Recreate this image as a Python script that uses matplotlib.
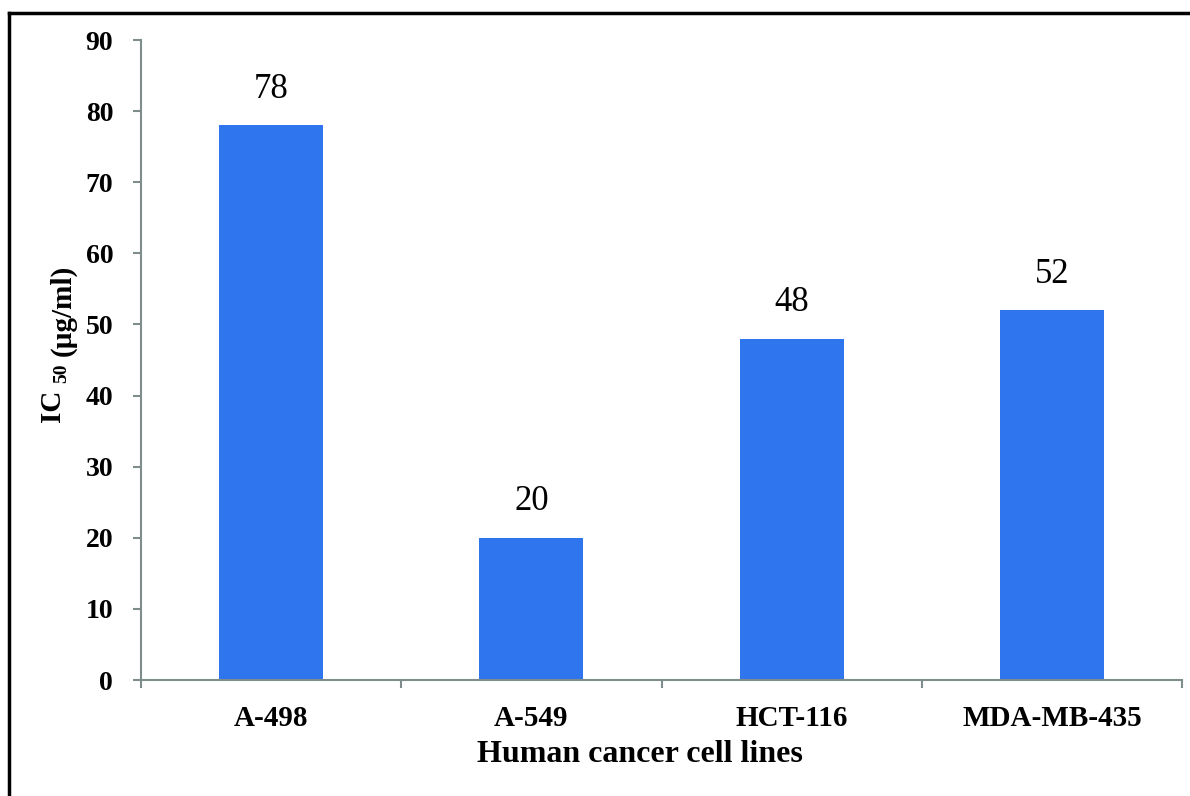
import matplotlib.pyplot as plt
from matplotlib.lines import Line2D

cell_lines = ['A-498', 'A-549', 'HCT-116', 'MDA-MB-435']
ic50 = [78, 20, 48, 52]

plt.rcParams['font.family'] = ['Liberation Serif', 'DejaVu Serif']

bar_color = '#2f75ee'
axis_color = '#7f8c8c'

fig = plt.figure(figsize=(11.9, 7.96), dpi=100)
ax = fig.add_axes([0.1185, 0.1457, 0.8748, 0.804])

x = range(len(cell_lines))
bars = ax.bar(x, ic50, width=0.4, color=bar_color, zorder=2)
for b, v in zip(bars, ic50):
    ax.annotate(str(v), (b.get_x() + b.get_width() / 2, v),
                xytext=(0, 14), textcoords='offset points',
                ha='center', va='bottom', fontsize=25)

ax.set_xlim(-0.5, len(cell_lines) - 0.5)
ax.set_ylim(0, 90)
ax.set_yticks(range(0, 91, 10))
ax.set_xticks(list(x))
ax.set_xticklabels(cell_lines, fontsize=21, fontweight='bold')
ax.set_xticks([i - 0.5 for i in range(len(cell_lines) + 1)], minor=True)

for lab in ax.get_yticklabels():
    lab.set_fontweight('bold')
    lab.set_fontsize(20)

ax.tick_params(axis='y', length=6, width=1.5, color=axis_color, pad=14)
ax.tick_params(axis='x', which='major', length=0, pad=18)
ax.tick_params(axis='x', which='minor', length=6, width=1.5, color=axis_color)

for side in ['top', 'right']:
    ax.spines[side].set_visible(False)
for side in ['left', 'bottom']:
    ax.spines[side].set_color(axis_color)
    ax.spines[side].set_linewidth(1.5)

ax.set_xlabel('Human cancer cell lines', fontsize=23, fontweight='bold')
ax.xaxis.set_label_coords(0.479, -0.094)

# y label: "IC", smaller "50", then the unit, sharing one baseline
t1 = fig.text(0.0505, 0.470, 'IC', rotation=90, rotation_mode='anchor',
              ha='left', va='baseline', fontsize=21, fontweight='bold')
t2 = ax.annotate('50', xy=(1, 1), xycoords=t1, xytext=(0, 5),
                 textcoords='offset points', rotation=90,
                 rotation_mode='anchor', ha='left', va='baseline',
                 fontsize=14, fontweight='bold', annotation_clip=False)
t3 = ax.annotate('(µg/ml)', xy=(1, 1), xycoords=t2, xytext=(0, 5),
                 textcoords='offset points', rotation=90,
                 rotation_mode='anchor', ha='left', va='baseline',
                 fontsize=21, fontweight='bold', annotation_clip=False)

# outer frame on the top and left edges
fig.add_artist(Line2D([0.0076, 1.0], [0.984, 0.984], color='black',
                      lw=2.5, transform=fig.transFigure))
fig.add_artist(Line2D([0.0076, 0.0076], [0.0, 0.984], color='black',
                      lw=2.5, transform=fig.transFigure))

fig.savefig('out.png', dpi=100)
